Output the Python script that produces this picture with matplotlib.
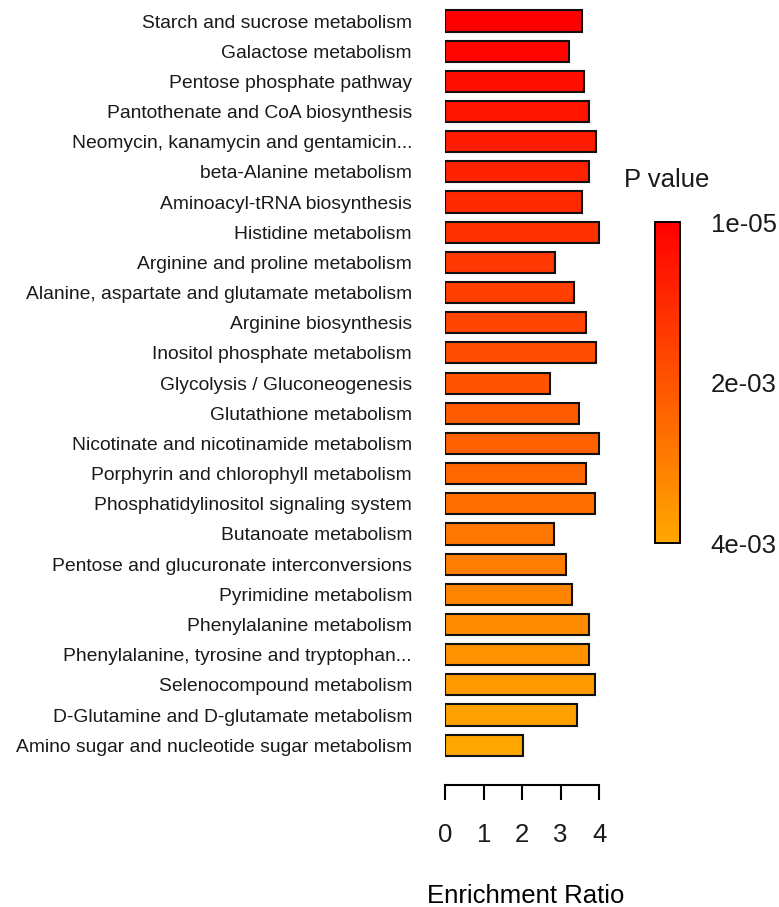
import matplotlib
matplotlib.use("Agg")
import matplotlib.pyplot as plt
import matplotlib.colors as mcolors
import matplotlib.cm as cm

plt.rcParams['font.family'] = ['Liberation Sans', 'DejaVu Sans']
plt.rcParams['text.color'] = '#1a1a1a'
plt.rcParams['xtick.labelcolor'] = '#1a1a1a'
plt.rcParams['ytick.labelcolor'] = '#1a1a1a'

pathways = [
    "Starch and sucrose metabolism",
    "Galactose metabolism",
    "Pentose phosphate pathway",
    "Pantothenate and CoA biosynthesis",
    "Neomycin, kanamycin and gentamicin...",
    "beta-Alanine metabolism",
    "Aminoacyl-tRNA biosynthesis",
    "Histidine metabolism",
    "Arginine and proline metabolism",
    "Alanine, aspartate and glutamate metabolism",
    "Arginine biosynthesis",
    "Inositol phosphate metabolism",
    "Glycolysis / Gluconeogenesis",
    "Glutathione metabolism",
    "Nicotinate and nicotinamide metabolism",
    "Porphyrin and chlorophyll metabolism",
    "Phosphatidylinositol signaling system",
    "Butanoate metabolism",
    "Pentose and glucuronate interconversions",
    "Pyrimidine metabolism",
    "Phenylalanine metabolism",
    "Phenylalanine, tyrosine and tryptophan...",
    "Selenocompound metabolism",
    "D-Glutamine and D-glutamate metabolism",
    "Amino sugar and nucleotide sugar metabolism",
]
enrichment = [3.55, 3.21, 3.61, 3.74, 3.92, 3.74, 3.55, 3.99, 2.86, 3.35,
              3.65, 3.92, 2.73, 3.47, 4.00, 3.65, 3.90, 2.83, 3.15, 3.30,
              3.74, 3.74, 3.90, 3.43, 2.02]
pvalues = [1.0e-05, 1.5e-04, 3.2e-04, 4.9e-04, 6.5e-04, 8.1e-04, 9.8e-04,
           1.15e-03, 1.32e-03, 1.48e-03, 1.65e-03, 1.82e-03, 1.98e-03,
           2.15e-03, 2.31e-03, 2.48e-03, 2.65e-03, 2.81e-03, 2.98e-03,
           3.15e-03, 3.31e-03, 3.48e-03, 3.65e-03, 3.82e-03, 3.98e-03]
cbar_ticks = [1e-05, 2e-03, 4e-03]
cbar_labels = ["1e-05", "2e-03", "4e-03"]

cmap = mcolors.LinearSegmentedColormap.from_list("redorange", ["#FF0000", "#FFA800"])
norm = mcolors.Normalize(vmin=1e-05, vmax=4e-03)

fig = plt.figure(figsize=(7.79, 9.07), dpi=100)
ax = fig.add_axes([0.5716, 0.1345, 0.2073, 0.8623])

ypos = list(range(len(pathways)))
ax.barh(ypos, enrichment, height=0.7, color=cmap(norm(pvalues)),
        edgecolor="#111111", linewidth=1.5)

ax.set_xlim(0, 4.2)
ax.set_ylim(25.32, -0.6)
ax.set_yticks(ypos)
ax.set_yticklabels(pathways, fontsize=13.9)
ax.tick_params(axis="y", length=0, pad=24)
ax.set_xticks([0, 1, 2, 3, 4])
ax.tick_params(axis="x", direction="out", length=10.8, width=1.5,
               labelsize=18.5, pad=16.5)
for s in ["top", "right", "left"]:
    ax.spines[s].set_visible(False)
ax.spines["bottom"].set_bounds(0, 4)
ax.spines["bottom"].set_linewidth(1.5)
ax.set_xlabel("Enrichment Ratio", fontsize=18.5, labelpad=27)

# colour key
cax = fig.add_axes([0.841, 0.401, 0.032, 0.354])
sm = cm.ScalarMappable(norm=norm, cmap=cmap)
cb = fig.colorbar(sm, cax=cax)
cb.ax.invert_yaxis()
cb.set_ticks(cbar_ticks)
cb.set_ticklabels(cbar_labels)
cb.ax.tick_params(length=0, labelsize=18.5, pad=22)
cb.outline.set_linewidth(1.4)
fig.text(0.856, 0.801, "P value", fontsize=18.5, ha="center", va="center")

fig.savefig("out.png", dpi=100)
